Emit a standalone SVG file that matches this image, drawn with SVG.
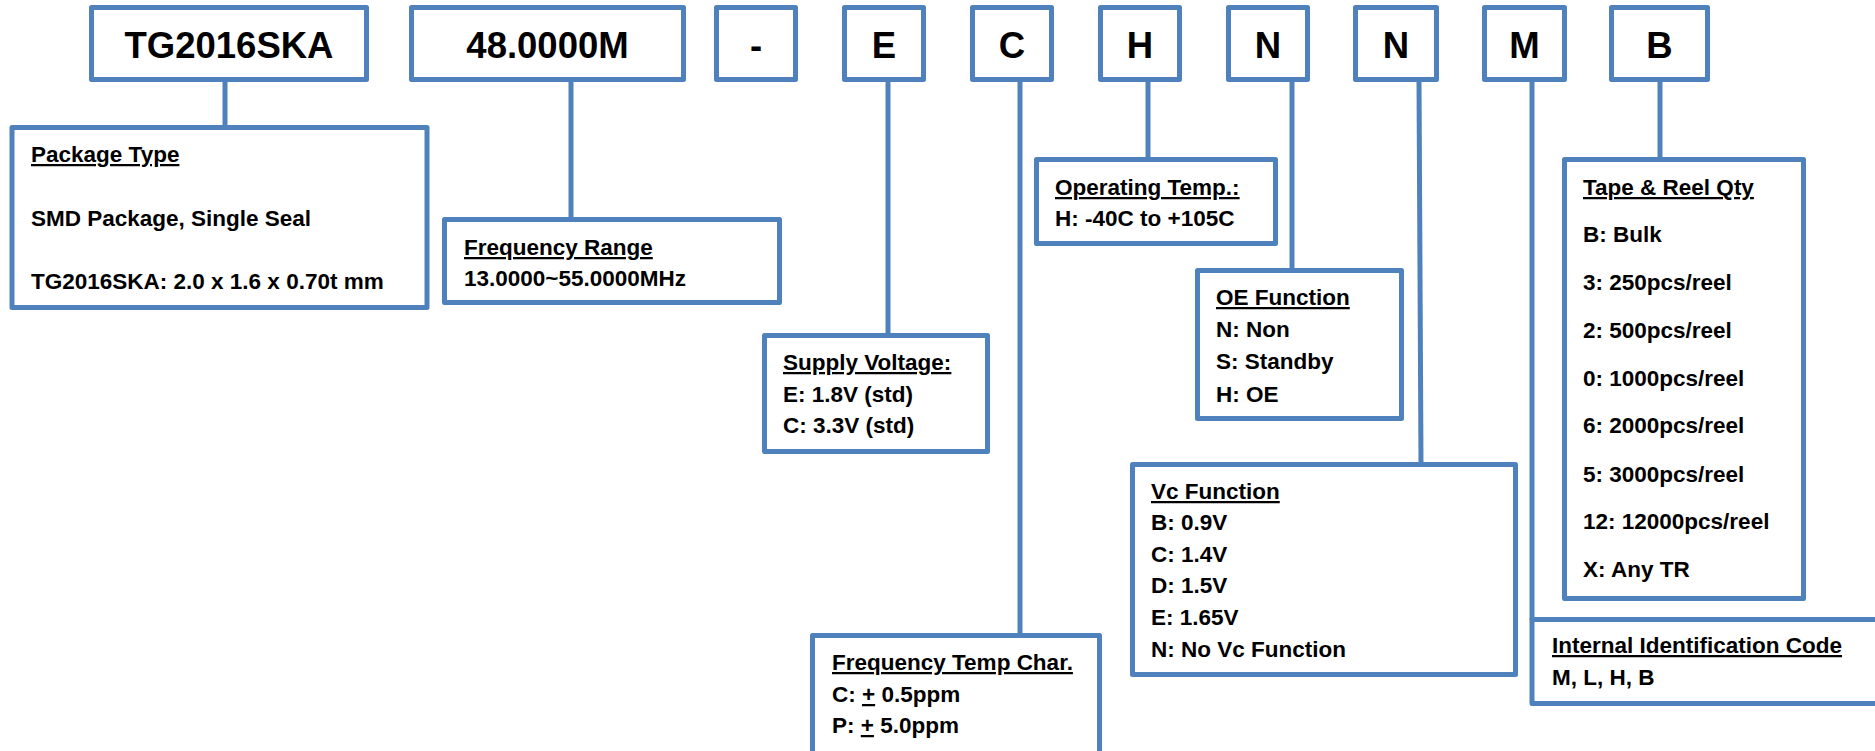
<svg xmlns="http://www.w3.org/2000/svg" width="1875" height="751" viewBox="0 0 1875 751">
<style>
rect{fill:#fff;stroke:#4F81BD;stroke-width:5;stroke-linejoin:round}
.c line{stroke:#4F81BD;stroke-width:5}
text{font-family:"Liberation Sans",Arial,sans-serif;font-weight:bold;fill:#000}
.t{font-size:36.5px;text-anchor:middle}
.b{font-size:22.5px}
.h{text-decoration:underline}
</style>
<g class="c" id="connectors">
<line x1="225" y1="80" x2="225" y2="128"/>
<line x1="571" y1="80" x2="571" y2="220"/>
<line x1="888" y1="80" x2="888" y2="336"/>
<line x1="1020" y1="80" x2="1020" y2="636"/>
<line x1="1148" y1="80" x2="1148" y2="160"/>
<line x1="1292" y1="80" x2="1292" y2="271"/>
<line x1="1419" y1="80" x2="1421" y2="465"/>
<line x1="1532" y1="80" x2="1532" y2="620"/>
<line x1="1660" y1="80" x2="1660" y2="160"/>
</g>
<g id="code-tg"><rect x="91.5" y="7.5" width="275" height="72"/><text class="t" x="229" y="58">TG2016SKA</text></g>
<g id="code-freq"><rect x="411.5" y="7.5" width="272" height="72"/><text class="t" x="547.5" y="58">48.0000M</text></g>
<g id="code-dash"><rect x="716.5" y="7.5" width="79" height="72"/><text class="t" x="756" y="58">-</text></g>
<g id="code-e"><rect x="844.5" y="7.5" width="79" height="72"/><text class="t" x="884" y="58">E</text></g>
<g id="code-c"><rect x="972.5" y="7.5" width="79" height="72"/><text class="t" x="1012" y="58">C</text></g>
<g id="code-h"><rect x="1100.5" y="7.5" width="79" height="72"/><text class="t" x="1140" y="58">H</text></g>
<g id="code-n1"><rect x="1228.5" y="7.5" width="79" height="72"/><text class="t" x="1268" y="58">N</text></g>
<g id="code-n2"><rect x="1355.5" y="7.5" width="81" height="72"/><text class="t" x="1396" y="58">N</text></g>
<g id="code-m"><rect x="1484.5" y="7.5" width="80" height="72"/><text class="t" x="1524.5" y="58">M</text></g>
<g id="code-b"><rect x="1611.5" y="7.5" width="96" height="72"/><text class="t" x="1659.5" y="58">B</text></g>

<g id="package-type"><rect x="12" y="127.5" width="415" height="180"/>
<text class="b h" x="31" y="162">Package Type</text>
<text class="b" x="31" y="226">SMD Package, Single Seal</text>
<text class="b" x="31" y="289">TG2016SKA: 2.0 x 1.6 x 0.70t mm</text></g>

<g id="frequency-range"><rect x="444.5" y="219.5" width="335" height="83"/>
<text class="b h" x="464" y="255">Frequency Range</text>
<text class="b" x="464" y="286">13.0000~55.0000MHz</text></g>

<g id="supply-voltage"><rect x="764.5" y="335.5" width="223" height="116"/>
<text class="b h" x="783" y="370">Supply Voltage:</text>
<text class="b" x="783" y="402">E: 1.8V (std)</text>
<text class="b" x="783" y="433">C: 3.3V (std)</text></g>

<g id="freq-temp-char"><rect x="812.5" y="635.5" width="287" height="130"/>
<text class="b h" x="832" y="670">Frequency Temp Char.</text>
<text class="b" x="832" y="702">C: <tspan class="h">+</tspan> 0.5ppm</text>
<text class="b" x="832" y="733">P: <tspan class="h">+</tspan> 5.0ppm</text></g>

<g id="operating-temp"><rect x="1036.5" y="159.5" width="239" height="84"/>
<text class="b h" x="1055" y="195">Operating Temp.:</text>
<text class="b" x="1055" y="226">H: -40C to +105C</text></g>

<g id="oe-function"><rect x="1197.5" y="270.5" width="204" height="148"/>
<text class="b h" x="1216" y="305">OE Function</text>
<text class="b" x="1216" y="337">N: Non</text>
<text class="b" x="1216" y="369">S: Standby</text>
<text class="b" x="1216" y="402">H: OE</text></g>

<g id="vc-function"><rect x="1132.5" y="464.5" width="383" height="210"/>
<text class="b h" x="1151" y="499">Vc Function</text>
<text class="b" x="1151" y="530">B: 0.9V</text>
<text class="b" x="1151" y="562">C: 1.4V</text>
<text class="b" x="1151" y="593">D: 1.5V</text>
<text class="b" x="1151" y="625">E: 1.65V</text>
<text class="b" x="1151" y="657">N: No Vc Function</text></g>

<g id="internal-code"><rect x="1532" y="619.5" width="400" height="84"/>
<text class="b h" x="1552" y="653">Internal Identification Code</text>
<text class="b" x="1552" y="685">M, L, H, B</text></g>

<g id="tape-reel"><rect x="1564.5" y="159.5" width="239" height="439"/>
<text class="b h" x="1583" y="195">Tape &amp; Reel Qty</text>
<text class="b" x="1583" y="242">B: Bulk</text>
<text class="b" x="1583" y="290">3: 250pcs/reel</text>
<text class="b" x="1583" y="338">2: 500pcs/reel</text>
<text class="b" x="1583" y="386">0: 1000pcs/reel</text>
<text class="b" x="1583" y="433">6: 2000pcs/reel</text>
<text class="b" x="1583" y="482">5: 3000pcs/reel</text>
<text class="b" x="1583" y="529">12: 12000pcs/reel</text>
<text class="b" x="1583" y="577">X: Any TR</text></g>
</svg>
